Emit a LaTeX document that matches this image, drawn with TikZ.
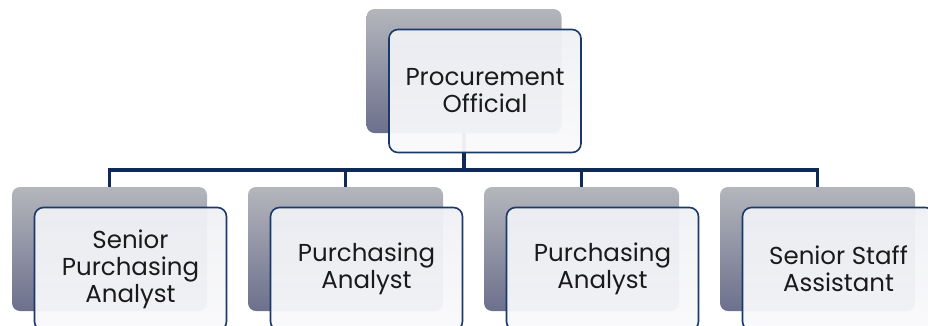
\documentclass[tikz,border=0pt]{standalone}
\usepackage{fontspec}
\setmainfont{Poppins}
\definecolor{linknavy}{RGB}{16,42,88}
\definecolor{boxnavy}{RGB}{26,56,104}
\definecolor{shadetop}{RGB}{180,182,188}
\definecolor{shadebot}{RGB}{108,112,140}
\definecolor{facetop}{RGB}{238,240,244}
\definecolor{facebot}{RGB}{250,250,252}
\definecolor{textgray}{RGB}{26,26,26}
\tikzset{
    backbox/.style={draw=none,rounded corners=8pt,minimum width=195pt,minimum height=124pt,
        top color=shadetop,bottom color=shadebot},
    frontbox/.style={draw=boxnavy,line width=1.6pt,rounded corners=9pt,minimum width=192pt,minimum height=123pt,
        top color=facetop,bottom color=facebot,fill opacity=0.95,text opacity=1,
        align=center,text=textgray,font=\fontsize{24.5}{27}\selectfont},
    link/.style={draw=linknavy,line width=3.2pt}
}
\begin{document}
\begin{tikzpicture}[x=1pt,y=1pt]
        \def\frontDx{21}
        \def\frontDy{20}
        \def\busY{-170}

        \clip (0,0) rectangle (928,-325);

        % Shadow boxes
        \node[backbox] (topback) at (464,-71) {};
        \foreach \i\xPos in {1/109.5,2/345.5,3/581.5,4/817.5} {
                \node[backbox] (back\i) at (\xPos,-249) {};
            }

        % Connectors
        \coordinate (bus) at (464,\busY);
        \foreach \i in {1,...,4} {
                \draw[link] (topback.south) -- (bus) -| (back\i.north);
            }

        % Front boxes
        \node[frontbox] (topfront) at (464+\frontDx,-71-\frontDy) {Procurement\\Official};
        \foreach \i\xPos\name in {1/109.5/{Senior\\Purchasing\\Analyst},2/345.5/{Purchasing\\Analyst},3/581.5/{Purchasing\\Analyst},4/817.5/{Senior Staff\\Assistant}} {
                \node[frontbox] (front\i) at (\xPos+\frontDx,-249-\frontDy) {\name};
            }
    \end{tikzpicture}
\end{document}
